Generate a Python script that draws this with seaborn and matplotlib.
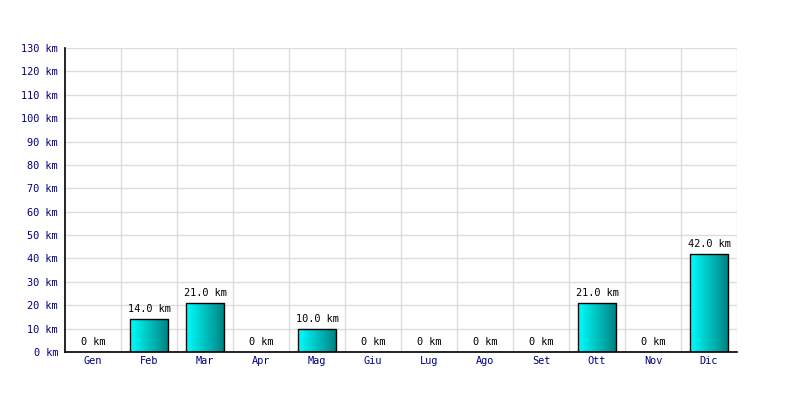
import matplotlib
matplotlib.use("Agg")
import matplotlib.pyplot as plt
import seaborn as sns
import numpy as np
import pandas as pd
from matplotlib.colors import LinearSegmentedColormap

months = ["Gen", "Feb", "Mar", "Apr", "Mag", "Giu", "Lug", "Ago", "Set", "Ott", "Nov", "Dic"]
values = [0, 14.0, 21.0, 0, 10.0, 0, 0, 0, 0, 21.0, 0, 42.0]
yticks = list(range(0, 131, 10))

sns.set_theme(style="white")
plt.rcParams['font.family'] = ['DejaVu Sans Mono']

df = pd.DataFrame({"month": months, "km": values})

fig = plt.figure(figsize=(8, 4), dpi=100)
ax = fig.add_axes([65/800, 48/400, 672/800, 304/400])

sns.barplot(data=df, x="month", y="km", ax=ax, color="#00cccc", width=0.68,
            linewidth=0, zorder=3)

ax.set_xlim(-0.5, len(months) - 0.5)
ax.set_ylim(0, 130)
ax.set_yticks(yticks)
ax.set_yticklabels([f"{v} km" for v in yticks])
ax.set_xticks(np.arange(len(months)) + 0.5, minor=True)
ax.grid(False)
ax.grid(True, axis="y", which="major", color="#dddddd", linewidth=1, zorder=0)
ax.grid(True, axis="x", which="minor", color="#dddddd", linewidth=1, zorder=0)
ax.tick_params(axis="x", which="minor", length=0)
ax.tick_params(axis="both", which="major", labelsize=7.4, colors="#000080", length=0, pad=5)
ax.tick_params(axis="x", which="major", pad=3)
ax.set_xlabel("")
ax.set_ylabel("")

for s in ["top", "right"]:
    ax.spines[s].set_visible(False)
for s in ["left", "bottom"]:
    ax.spines[s].set_color("black")
    ax.spines[s].set_linewidth(1.2)
    ax.spines[s].set_zorder(5)

cmap = LinearSegmentedColormap.from_list("g", ["#00ffff", "#008080"])
grad = np.linspace(0, 1, 256).reshape(1, -1)
for p, v in zip(ax.patches, values):
    x0, w = p.get_x(), p.get_width()
    if v > 0:
        im = ax.imshow(grad, extent=[x0, x0 + w, 0, v], aspect="auto", cmap=cmap,
                       zorder=3.5, origin="lower")
        im.set_clip_path(p)
        ax.add_patch(plt.Rectangle((x0, 0), w, v, fill=False, edgecolor="black",
                                   linewidth=1, zorder=4))
    label = f"{v:.1f} km" if v > 0 else "0 km"
    ax.annotate(label, (x0 + w / 2, v), xytext=(0, 3.5), textcoords="offset points",
                ha="center", va="bottom", fontsize=7.4, color="black", zorder=6)

ax.set_xlim(-0.5, len(months) - 0.5)
ax.set_ylim(0, 130)
ax.set_aspect("auto")

fig.savefig("out.png", dpi=100)
